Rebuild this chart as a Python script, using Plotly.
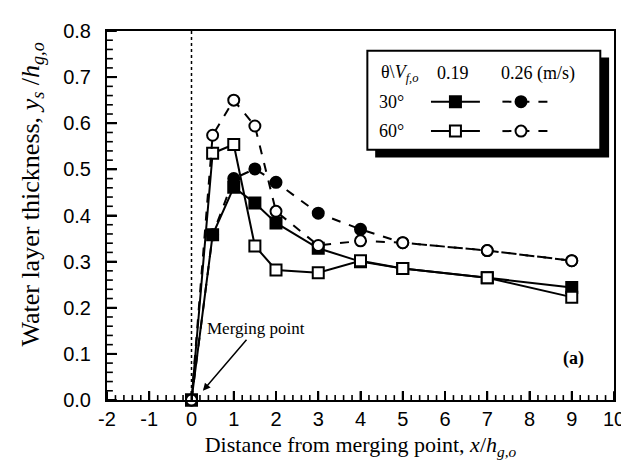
import plotly.graph_objects as go

# ---- data ----
x_vals = [0, 0.5, 1, 1.5, 2, 3, 4, 5, 7, 9]
y_30_019 = [0, 0.358, 0.461, 0.427, 0.384, 0.329, 0.300, 0.285, 0.265, 0.244]
y_60_019 = [0, 0.535, 0.554, 0.334, 0.282, 0.276, 0.302, 0.285, 0.265, 0.223]
y_30_026 = [0, 0.358, 0.480, 0.501, 0.472, 0.405, 0.370, 0.341, 0.324, 0.302]
y_60_026 = [0, 0.574, 0.650, 0.594, 0.409, 0.335, 0.345, 0.341, 0.324, 0.302]

x_ticks = list(range(-2, 11))
x_tick_text = [str(v) for v in x_ticks]
y_ticks = [0.0, 0.1, 0.2, 0.3, 0.4, 0.5, 0.6, 0.7, 0.8]
y_tick_text = [f"{v:.1f}" for v in y_ticks]
x_minor_step = 0.2
y_minor_step = 0.02

X_RANGE = [-2, 10]
Y_RANGE = [0, 0.8]

SERIF = "Liberation Serif"
SANS = "Liberation Sans"

PX_L, PX_R, PX_T, PX_B = 99, 617, 16, 392
PLOT_W = PX_R - PX_L
PLOT_H = PX_B - PX_T


def px(xp):  # pixel -> paper x
    return (xp - PX_L) / PLOT_W


def py(yp):  # pixel -> paper y
    return (PX_B - yp) / PLOT_H


def dx(xp):  # pixel -> data x
    return X_RANGE[0] + px(xp) * (X_RANGE[1] - X_RANGE[0])


def dy(yp):  # pixel -> data y
    return Y_RANGE[0] + py(yp) * (Y_RANGE[1] - Y_RANGE[0])


fig = go.Figure()

series = [
    (y_30_019, "square", "black", "solid", "30°, 0.19"),
    (y_60_019, "square", "white", "solid", "60°, 0.19"),
    (y_30_026, "circle", "black", "dash", "30°, 0.26"),
    (y_60_026, "circle", "white", "dash", "60°, 0.26"),
]
for ys, sym, fill, dash, name in series:
    fig.add_trace(go.Scatter(
        x=x_vals, y=ys, mode="lines+markers", name=name,
        line=dict(color="black", width=2, dash=dash),
        marker=dict(symbol=sym, size=11, color=fill, line=dict(color="black", width=2)),
        showlegend=False, cliponaxis=False,
    ))

# ---- custom legend samples ----
leg_rows = [
    (88, "square", "circle", "black"),
    (118, "square", "circle", "white"),
]
for yy, s1, s2, fill in leg_rows:
    fig.add_trace(go.Scatter(
        x=[dx(430), dx(480)], y=[dy(yy), dy(yy)], mode="lines",
        line=dict(color="black", width=2), showlegend=False, hoverinfo="skip"))
    fig.add_trace(go.Scatter(
        x=[dx(503), dx(552)], y=[dy(yy), dy(yy)], mode="lines",
        line=dict(color="black", width=2, dash="dash"), showlegend=False, hoverinfo="skip"))
    fig.add_trace(go.Scatter(
        x=[dx(455), dx(522)], y=[dy(yy), dy(yy)], mode="markers",
        marker=dict(symbol=[s1, s2], size=11, color=fill, line=dict(color="black", width=2)),
        showlegend=False, hoverinfo="skip"))

shapes = [
    dict(type="rect", xref="paper", yref="paper", x0=px(373), x1=px(612), y0=py(145), y1=py(43),
         fillcolor="black", line=dict(width=0), layer="below"),
    dict(type="rect", xref="paper", yref="paper", x0=px(365), x1=px(603), y0=py(137), y1=py(36),
         fillcolor="white", line=dict(color="black", width=2), layer="below"),
    dict(type="line", xref="x", yref="paper", x0=0, x1=0, y0=0, y1=1,
         line=dict(color="black", width=1.5, dash="dot"), layer="below"),
]

# tick marks (inside), as shapes in axis/paper coordinates
n_x = int(round((X_RANGE[1] - X_RANGE[0]) / x_minor_step))
for i in range(n_x + 1):
    v = X_RANGE[0] + i * x_minor_step
    major = abs(v - round(v)) < 1e-9
    ln = 9 if major else 5
    shapes.append(dict(type="line", xref="x", yref="paper", x0=v, x1=v, y0=0, y1=ln / PLOT_H,
                       line=dict(color="black", width=2 if major else 1.6), layer="above"))
n_y = int(round((Y_RANGE[1] - Y_RANGE[0]) / y_minor_step))
for j in range(n_y + 1):
    v = Y_RANGE[0] + j * y_minor_step
    major = j % 5 == 0
    ln = 10 if major else 6
    shapes.append(dict(type="line", xref="paper", yref="y", x0=0, x1=ln / PLOT_W, y0=v, y1=v,
                       line=dict(color="black", width=2 if major else 1.6), layer="above"))

annotations = []
leg_font = dict(family=SERIF, size=18, color="black")
for xx, yy, txt in [
    (398, 59, "θ\\<i>V</i><sub><i>f,o</i></sub>"),
    (453, 59, "0.19"),
    (539, 59, "0.26 (m/s)"),
    (390, 88, "30°"),
    (390, 118, "60°"),
]:
    annotations.append(dict(x=px(xx), y=py(yy), xref="paper", yref="paper", text=txt, showarrow=False,
                            font=leg_font, xanchor="center", yanchor="middle"))

annotations.append(dict(x=0.27, y=0.02, xref="x", yref="y", text="Merging point",
                        showarrow=True, arrowhead=2, arrowsize=1, arrowwidth=1.5, arrowcolor="black",
                        ax=53, ay=-62, font=dict(family=SERIF, size=17, color="black")))
annotations.append(dict(x=9.03, y=0.09, xref="x", yref="y", text="<b>(a)</b>", showarrow=False,
                        font=dict(family=SERIF, size=18, color="black")))
annotations.append(dict(x=px(22), y=py(183), xref="paper", yref="paper", textangle=-90, showarrow=False,
                        text="Water layer thickness, <i>y</i><sub><i>s</i></sub> /<i>h</i><sub><i>g,o</i></sub>",
                        font=dict(family=SERIF, size=26, color="black"),
                        xanchor="center", yanchor="middle"))

fig.update_layout(
    width=629, height=476,
    margin=dict(l=PX_L, r=629 - PX_R, t=PX_T, b=476 - PX_B),
    paper_bgcolor="white", plot_bgcolor="white",
    shapes=shapes, annotations=annotations,
    xaxis=dict(range=X_RANGE, tickmode="array", tickvals=x_ticks, ticktext=x_tick_text,
               ticks="inside", ticklen=9, tickwidth=2, tickcolor="black",
               showline=True, linecolor="black", linewidth=2, mirror=True,
               showgrid=False, zeroline=False,
               tickfont=dict(family=SANS, size=20, color="black"),
               title=dict(text="Distance from merging point, <i>x</i>/<i>h</i><sub><i>g,o</i></sub>",
                          font=dict(family=SERIF, size=22, color="black"), standoff=8)),
    yaxis=dict(range=Y_RANGE, tickmode="array", tickvals=y_ticks, ticktext=y_tick_text,
               ticks="inside", ticklen=10, tickwidth=2, tickcolor="black", ticklabelstandoff=10,
               showline=True, linecolor="black", linewidth=2,
               mirror=True, showgrid=False, zeroline=False,
               tickfont=dict(family=SANS, size=20, color="black")),
)

fig.write_html("out.html")
